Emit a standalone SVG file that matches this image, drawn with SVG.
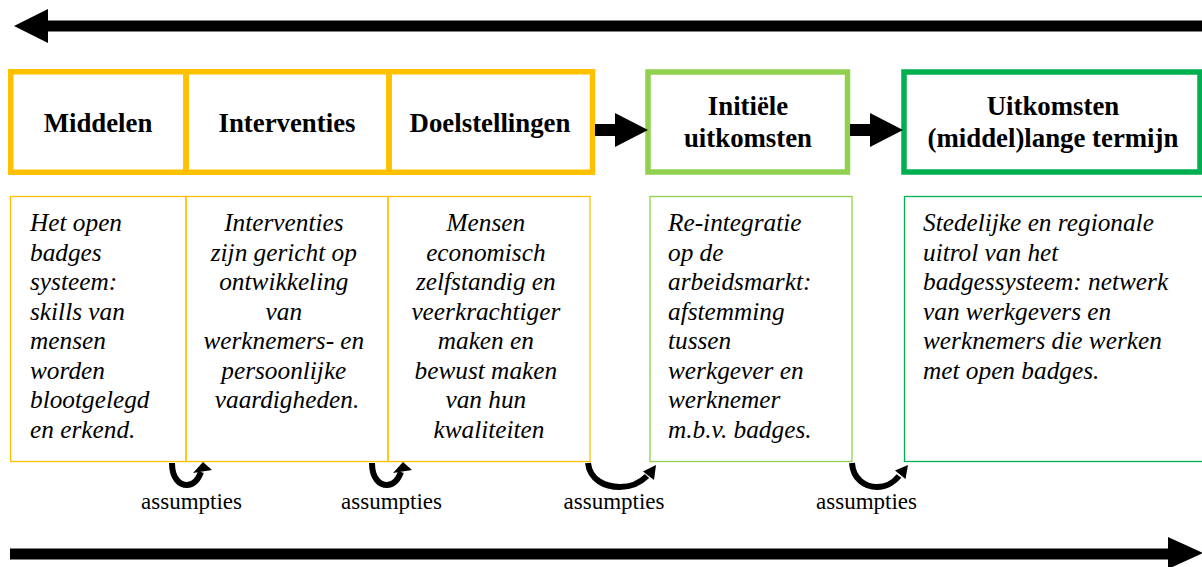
<svg xmlns="http://www.w3.org/2000/svg" width="1202" height="567" viewBox="0 0 1202 567">
<style>
.hdr{fill:none;stroke-width:5.5}
.box{fill:none;stroke-width:1.3}
.or{stroke:#FFC000}
.lg{stroke:#92D050}
.dg{stroke:#00B050}
.t{font-family:"Liberation Serif","Times New Roman",serif;fill:#000}
.b{font-weight:bold;font-size:26.8px;text-anchor:middle}
.i{font-style:italic;font-size:25.3px}
.c{text-anchor:middle}
.a{font-size:23px;text-anchor:middle}
.curve{fill:none;stroke:#000;stroke-width:6}
</style>
<rect width="1202" height="567" fill="#fff"/>

<g id="timeline-top">
<line x1="46" y1="26" x2="1202" y2="26" stroke="#000" stroke-width="11"/>
<polygon points="14,26 48,9 48,43" fill="#000"/>
</g>
<g id="timeline-bottom">
<line x1="10" y1="554" x2="1170" y2="554" stroke="#000" stroke-width="11"/>
<polygon points="1168,537 1203,553 1168,569" fill="#000"/>
</g>

<g id="middelen">
<rect class="hdr or" x="10.75" y="71.75" width="175.25" height="100.5"/>
<text class="t b" x="98" y="132">Middelen</text>
<rect class="box or" x="10.5" y="196.5" width="175.5" height="265"/>
<text class="t i" x="30">
<tspan x="30" y="231">Het open</tspan>
<tspan x="30" y="260.5">badges</tspan>
<tspan x="30" y="290">systeem:</tspan>
<tspan x="30" y="319.5">skills van</tspan>
<tspan x="30" y="349">mensen</tspan>
<tspan x="30" y="378.5">worden</tspan>
<tspan x="30" y="408">blootgelegd</tspan>
<tspan x="30" y="437.5">en erkend.</tspan>
</text>
</g>

<g id="interventies">
<rect class="hdr or" x="186" y="71.75" width="203" height="100.5"/>
<text class="t b" x="287" y="132">Interventies</text>
<rect class="box or" x="186" y="196.5" width="202" height="265"/>
<text class="t i c">
<tspan x="287" y="231">Interventies</tspan>
<tspan x="287" y="260.5">zijn gericht op</tspan>
<tspan x="287" y="290">ontwikkeling</tspan>
<tspan x="287" y="319.5">van</tspan>
<tspan x="287" y="349">werknemers- en</tspan>
<tspan x="287" y="378.5">persoonlijke</tspan>
<tspan x="287" y="408">vaardigheden.</tspan>
</text>
</g>

<g id="doelstellingen">
<rect class="hdr or" x="389" y="71.75" width="203.5" height="100.5"/>
<text class="t b" x="490" y="132">Doelstellingen</text>
<rect class="box or" x="388" y="196.5" width="202" height="265"/>
<text class="t i c">
<tspan x="489" y="231">Mensen</tspan>
<tspan x="489" y="260.5">economisch</tspan>
<tspan x="489" y="290">zelfstandig en</tspan>
<tspan x="489" y="319.5">veerkrachtiger</tspan>
<tspan x="489" y="349">maken en</tspan>
<tspan x="489" y="378.5">bewust maken</tspan>
<tspan x="489" y="408">van hun</tspan>
<tspan x="489" y="437.5">kwaliteiten</tspan>
</text>
</g>

<g id="initiele-uitkomsten">
<rect class="hdr lg" x="648" y="72" width="199.5" height="100"/>
<text class="t b"><tspan x="748" y="115">Initiële</tspan><tspan x="748" y="146.7">uitkomsten</tspan></text>
<rect class="box lg" x="650" y="196.5" width="202" height="265"/>
<text class="t i">
<tspan x="668" y="231">Re-integratie</tspan>
<tspan x="668" y="260.5">op de</tspan>
<tspan x="668" y="290">arbeidsmarkt:</tspan>
<tspan x="668" y="319.5">afstemming</tspan>
<tspan x="668" y="349">tussen</tspan>
<tspan x="668" y="378.5">werkgever en</tspan>
<tspan x="668" y="408">werknemer</tspan>
<tspan x="668" y="437.5">m.b.v. badges.</tspan>
</text>
</g>

<g id="uitkomsten-lange-termijn">
<rect class="hdr dg" x="904" y="72" width="296" height="100"/>
<text class="t b"><tspan x="1053" y="115">Uitkomsten</tspan><tspan x="1053" y="146.7">(middel)lange termijn</tspan></text>
<rect class="box dg" x="904.5" y="196.5" width="300" height="265"/>
<text class="t i">
<tspan x="923" y="231">Stedelijke en regionale</tspan>
<tspan x="923" y="260.5">uitrol van het</tspan>
<tspan x="923" y="290">badgessysteem: netwerk</tspan>
<tspan x="923" y="319.5">van werkgevers en</tspan>
<tspan x="923" y="349">werknemers die werken</tspan>
<tspan x="923" y="378.5">met open badges.</tspan>
</text>
</g>

<g id="connectors">
<rect x="595" y="124" width="21" height="12" fill="#000"/>
<polygon points="615,113 648,130 615,147" fill="#000"/>
<rect x="850" y="124" width="21" height="12" fill="#000"/>
<polygon points="870,113 903,130 870,147" fill="#000"/>

<path class="curve" d="M172,463 C172,479 180,485 187,485 C194,485 198,480 201,472"/>
<polygon points="203,462 193,473 212,470" fill="#000"/>
<path class="curve" d="M372,463 C372,479 380,485 387,485 C394,485 398,480 401,472"/>
<polygon points="403,462 393,473 412,470" fill="#000"/>
<path class="curve" d="M588,463 C590,480 605,487 620,487 C633,487 642,481 647,476"/>
<polygon points="656,465 643,471.5 654,480" fill="#000"/>
<path class="curve" d="M852,463 C853,479 865,487 877,487 C887,487 895,481 899,476"/>
<polygon points="908,465 895,470.5 905.5,479" fill="#000"/>
</g>

<g id="assumpties-labels">
<text class="t a" x="191.5" y="509">assumpties</text>
<text class="t a" x="391.5" y="509">assumpties</text>
<text class="t a" x="614" y="509">assumpties</text>
<text class="t a" x="866.5" y="509">assumpties</text>
</g>
</svg>
